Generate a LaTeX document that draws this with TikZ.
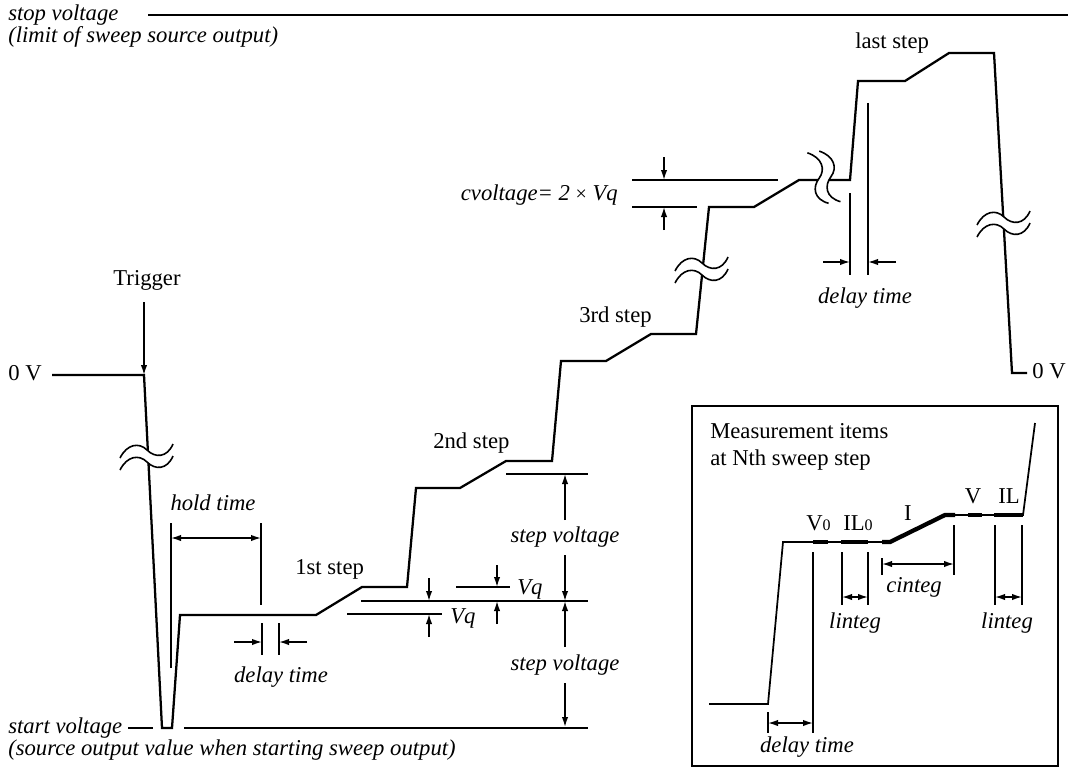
\documentclass[tikz,border=0pt]{standalone}
\usepackage{fontspec}
\setmainfont{Liberation Serif}
\usetikzlibrary{arrows.meta}
\begin{document}
\begin{tikzpicture}[x=0.75pt,y=-0.75pt,
  wave/.style={line width=1.7pt, line join=miter},
  thickseg/.style={line width=3.2pt},
  dim/.style={line width=1.1pt},
  tip/.tip={Latex[length=7.5pt,width=4.8pt]},
  arr/.style={dim,-tip},
  darr/.style={dim,tip-tip},
  lab/.style={font=\fontsize{17}{18}\selectfont\itshape, inner sep=0pt},
  txt/.style={font=\fontsize{17}{18}\selectfont, inner sep=0pt},
  brk/.pic={
    \fill[white] (-27,-1) .. controls (-20,-15) and (-8,-17) .. (0,-9) .. controls (8,-1) and (20,-1) .. (26,-15)
       -- (26,-3) .. controls (20,11) and (8,11) .. (0,3) .. controls (-8,-5) and (-20,-3) .. (-27,11) -- cycle;
    \draw[line width=1.2pt] (-27,-1) .. controls (-20,-15) and (-8,-17) .. (0,-9) .. controls (8,-1) and (20,-1) .. (26,-15);
    \draw[line width=1.2pt] (-27,11) .. controls (-20,-3) and (-8,-5) .. (0,3) .. controls (8,11) and (20,11) .. (26,-3);
  }]
\useasboundingbox (0,0) rectangle (1073,770);

% top labels
\node[lab,anchor=base west] (stopv) at (8,21) {stop voltage};
\node[lab,anchor=base west] (stopv2) at (8,43) {(limit of sweep source output)};
\coordinate (stopA) at (148,15);
\coordinate (stopB) at (1068,15);
\draw[line width=1.2pt] (stopA) -- (stopB);

% main waveform
\coordinate (w0) at (52,375);
\coordinate (w1) at (144,375);
\draw[wave] (w0) -- (w1) -- (162,728) -- (172,728) -- (180,615) -- (316,615) -- (362,587) -- (407,587)
  -- (416,488) -- (460,488) -- (506,461) -- (552,461) -- (561,361) -- (606,361) -- (651,334) -- (696,334)
  -- (709,207) -- (754,207) -- (799,180) -- (850,180) -- (858,81) -- (905,81) -- (949,53) -- (994,53)
  -- (1012,373) -- (1027,373);

% break symbols
\pic at (147,459) {brk};
\pic at (702,272) {brk};
\pic[rotate=-82] at (822,178) {brk};
\pic at (1004,226) {brk};

% trigger and 0 V
\node[txt,anchor=base] (trig) at (147,285) {Trigger};
\coordinate (trigT) at (144,302);
\draw[arr] (trigT) -- (w1);
\node[txt,anchor=base west] (zeroL) at (8,380) {0 V};
\node[txt,anchor=base west] (zeroR) at (1032,378) {0 V};

% start voltage
\node[lab,anchor=base west] (startv) at (8,733) {start voltage};
\node[lab,anchor=base west] (startv2) at (8,755) {(source output value when starting sweep output)};
\draw[dim] (128,728) -- (153,728);
\draw[dim] (184,728) -- (588,728);

% hold time
\draw[dim] (171,523) -- (171,668);
\draw[dim] (261,523) -- (261,605);
\draw[darr] (171,538) -- (261,538);
\node[lab,anchor=base] (hold) at (213,510) {hold time};

% delay time 1
\draw[dim] (262,623) -- (262,655);
\draw[dim] (279,623) -- (279,655);
\draw[arr] (234,642) -- (262,642);
\draw[arr] (307,642) -- (279,642);
\node[lab,anchor=base] (delay1) at (281,682) {delay time};

% step labels
\node[txt,anchor=base west] (s1) at (295,574) {1st step};
\node[txt,anchor=base west] (s2) at (433,448) {2nd step};
\node[txt,anchor=base west] (s3) at (579,322) {3rd step};
\node[txt,anchor=base west] (sl) at (855,49) {last step};

% step voltage dimensions
\draw[dim] (506,474) -- (588,474);
\draw[dim] (361,601) -- (588,601);
\draw[arr] (565,520) -- (565,474);
\draw[arr] (565,555) -- (565,601);
\draw[arr] (565,647) -- (565,601);
\draw[arr] (565,683) -- (565,727);
\node[lab,anchor=base] (sv1) at (565,542) {step voltage};
\node[lab,anchor=base] (sv2) at (565,670) {step voltage};

% Vq dimensions
\draw[dim] (347,614) -- (442,614);
\draw[arr] (429,578) -- (429,601);
\draw[arr] (429,637) -- (429,614);
\node[lab,anchor=base west] (vq1) at (450,623) {Vq};
\draw[dim] (456,587) -- (510,587);
\draw[arr] (497,565) -- (497,587);
\draw[arr] (497,624) -- (497,601);
\node[lab,anchor=base west] (vq2) at (517,594) {Vq};

% cvoltage
\draw[dim] (632,180) -- (778,180);
\draw[dim] (632,207) -- (697,207);
\draw[arr] (664,157) -- (664,180);
\draw[arr] (664,230) -- (664,207);
\node[lab,anchor=base east] (cv) at (618,200) {cvoltage= 2 {\upshape\fontsize{15}{15}\selectfont ×} Vq};

% delay time 2
\draw[dim] (850,193) -- (850,275);
\draw[dim] (868,103) -- (868,275);
\draw[arr] (823,262) -- (850,262);
\draw[arr] (896,262) -- (868,262);
\node[lab,anchor=base] (delay2) at (865,303) {delay time};

% inset
\draw[line width=0.8pt] (692,406) rectangle (1058,766);
\node[txt,anchor=base west] (m1) at (710,438) {Measurement items};
\node[txt,anchor=base west] (m2) at (710,465) {at Nth sweep step};
\draw[wave,line width=1.3pt] (709,704) -- (768,704) -- (783,542) -- (890,542) -- (945,515) -- (1023,515) -- (1035,423);
\draw[thickseg] (813,542) -- (828,542);
\draw[thickseg] (841,542) -- (868,542);
\draw[thickseg,line join=miter] (882,542) -- (890,542) -- (945,515) -- (955,515);
\draw[thickseg] (968,515) -- (982,515);
\draw[thickseg] (994,515) -- (1023,515);
\node[txt,anchor=base west] (v0) at (806,530) {V\raisebox{-0.5pt}{\fontsize{12}{12}\selectfont 0}};
\node[txt,anchor=base west] (il0) at (843,530) {IL\raisebox{-0.5pt}{\fontsize{12}{12}\selectfont 0}};
\node[txt,anchor=base] (ii) at (908,520) {I};
\node[txt,anchor=base] (vv) at (973,503) {V};
\node[txt,anchor=base west] (il) at (998,503) {IL};
% inset dims
\draw[dim] (768,712) -- (768,733);
\draw[dim] (813,552) -- (813,733);
\draw[darr] (768,723) -- (813,723);
\node[lab,anchor=base] (d3) at (807,752) {delay time};
\draw[dim] (842,552) -- (842,605);
\draw[dim] (868,552) -- (868,605);
\draw[darr] (842,597) -- (868,597);
\node[lab,anchor=base] (li1) at (855,628) {linteg};
\draw[dim] (882,558) -- (882,575);
\draw[dim] (954,525) -- (954,575);
\draw[darr] (882,564) -- (954,564);
\node[lab,anchor=base] (ci) at (914,592) {cinteg};
\draw[dim] (995,525) -- (995,605);
\draw[dim] (1022,525) -- (1022,605);
\draw[darr] (995,597) -- (1022,597);
\node[lab,anchor=base] (li2) at (1007,628) {linteg};
\end{tikzpicture}
\end{document}
